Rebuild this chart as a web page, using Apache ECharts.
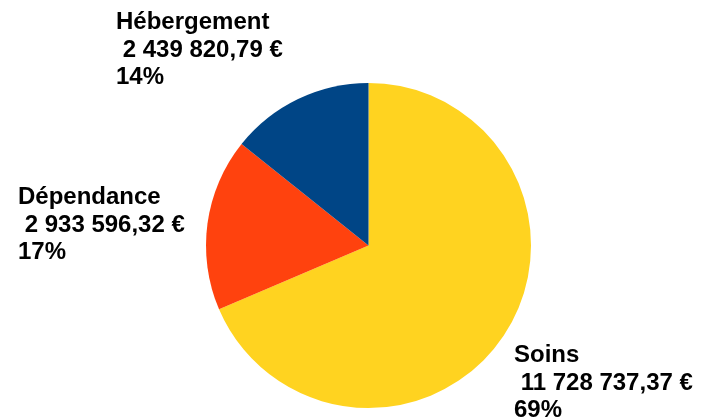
<!DOCTYPE html>
<html><head><meta charset="utf-8">
<script src="https://cdn.jsdelivr.net/npm/echarts@6/dist/echarts.min.js"></script>
<style>html,body{margin:0;padding:0;background:#fff}#c{width:702px;height:420px}</style>
</head><body><div id="c"></div>
<script>
const categories = ['Soins', 'Dépendance', 'Hébergement'];
const values = [11728737.37, 2933596.32, 2439820.79];
const colors = ['#ffd320', '#ff420e', '#004586'];
const labelPos = {
  'Soins': [514, 342],
  'Dépendance': [18, 184],
  'Hébergement': [116, 9]
};
function fmt(v) {
  const parts = v.toFixed(2).split('.');
  const int = parts[0].replace(/\B(?=(\d{3})+(?!\d))/g, ' ');
  return int + ',' + parts[1];
}
const chart = echarts.init(document.getElementById('c'), null, {renderer: 'canvas'});
chart.setOption({
  animation: false,
  backgroundColor: '#fff',
  series: [{
    type: 'pie',
    center: [368.5, 245.5],
    radius: 162.5,
    startAngle: 90,
    clockwise: true,
    data: categories.map((n, i) => ({name: n, value: values[i], itemStyle: {color: colors[i]}})),
    label: {
      show: true,
      position: 'outside',
      formatter: p => p.name + '\n ' + fmt(p.value) + ' €\n' + Math.round(p.percent) + '%',
      fontFamily: 'Liberation Sans',
      fontWeight: 'bold',
      fontSize: 24,
      lineHeight: 27.5,
      color: '#000',
      align: 'left',
      overflow: 'none',
      width: 300
    },
    labelLine: {show: false},
    labelLayout: function (params) {
      const name = categories[params.dataIndex];
      const pos = labelPos[name];
      return {x: pos[0], y: pos[1], align: 'left', verticalAlign: 'top'};
    },
    emphasis: {disabled: true}
  }]
});
</script></body></html>
